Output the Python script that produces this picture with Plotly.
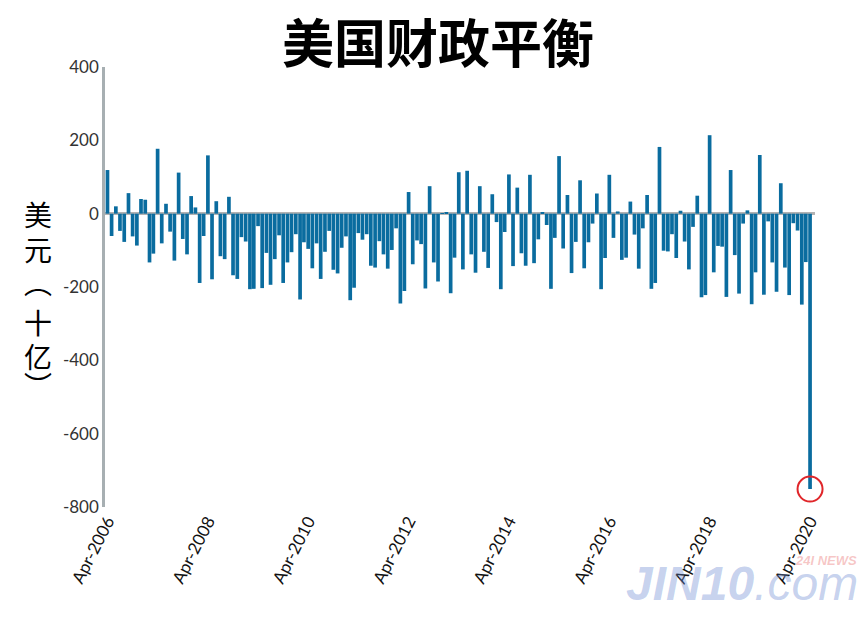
import pandas as pd
import plotly.graph_objects as go

# Monthly US federal budget balance, billions USD, Apr-2006 .. Apr-2020
start_month = "2006-04-01"
balance = [
    119, -61, 20, -47, -77, 56, -62, -87, 40,
    38, -133, -109, 177, -81, 27, -49, -128, 112, -69, -111, 48,
    17, -189, -61, 159, -179, 34, -116, -124, 46, -168, -178, -64,
    -76, -206, -205, -34, -203, -107, -194, -124, -59, -189, -133, -105,
    -56, -234, -78, -96, -149, -81, -178, -104, -47, -153, -163, -93,
    -62, -236, -202, -53, -71, -56, -142, -147, -75, -111, -150, -99,
    -40, -245, -211, 59, -138, -73, -83, -204, 75, -133, -185, 1,
    3, -217, -120, 113, -152, 117, -111, -161, 75, -104, -148, 53,
    -23, -206, -50, 107, -143, 71, -108, -142, 106, -135, -70, 2,
    -31, -205, -66, 157, -95, 51, -162, -77, 91, -149, -78, -27,
    55, -206, -121, 106, -66, 6, -126, -120, 33, -57, -150, -40,
    51, -205, -189, 182, -101, -103, -56, -121, 8, -76, -152, -36,
    49, -228, -222, 214, -160, -88, -90, -227, 119, -113, -218, -27,
    9, -247, -160, 160, -221, -21, -133, -213, 83, -147, -222, -26,
    -46, -248, -132, -751,
]
months = pd.date_range(start_month, periods=len(balance), freq="MS")

x_tick_vals = ["2006-04-01", "2008-04-01", "2010-04-01", "2012-04-01",
               "2014-04-01", "2016-04-01", "2018-04-01", "2020-04-01"]
x_tick_text = ["Apr-2006", "Apr-2008", "Apr-2010", "Apr-2012",
               "Apr-2014", "Apr-2016", "Apr-2018", "Apr-2020"]
y_tick_vals = [400, 200, 0, -200, -400, -600, -800]
y_tick_text = ["400", "200", "0", "-200", "-400", "-600", "-800"]

title_text = "美国财政平衡"
y_title_chars = ["美", "元", "︵", "十", "亿", "︶"]

BAR = "#0a6c9f"

fig = go.Figure()
fig.add_trace(go.Bar(x=months, y=balance, marker=dict(color=BAR, line=dict(width=0)),
                     hoverinfo="x+y"))
# red ring highlighting the latest month
fig.add_trace(go.Scatter(x=[months[-1]], y=[balance[-1]], mode="markers", cliponaxis=False,
                         marker=dict(symbol="circle-open", size=25,
                                     line=dict(color="#e0262a", width=2), color="#e0262a"),
                         hoverinfo="skip"))

L, R, T, B = 105, 49, 67, 111
W, H = 864, 618
pw, ph = W - L - R, H - T - B

def px_to_paper(px, py):
    return (px - L) / pw, (H - B - py) / ph

annotations = []
# title
tx, ty = px_to_paper(438, 1)
annotations.append(dict(text="<b>" + title_text + "</b>", x=tx, y=ty, xref="paper", yref="paper",
                        showarrow=False, xanchor="center", yanchor="top",
                        font=dict(family="Noto Sans CJK SC", size=52, color="#000000")))
# vertical y-axis title
char_y = [214, 249, 282, 322, 356, 385]
for ch, cy in zip(y_title_chars, char_y):
    cx, cyp = px_to_paper(38, cy)
    annotations.append(dict(text=ch, x=cx, y=cyp, xref="paper", yref="paper", showarrow=False,
                            xanchor="center", yanchor="middle",
                            font=dict(family="Noto Sans CJK SC", size=28, color="#000000")))
# watermark
wx, wy = px_to_paper(742, 583)
annotations.append(dict(text="<b><i>JIN10</i></b><i>.com</i>", x=wx, y=wy, xref="paper", yref="paper",
                        showarrow=False, xanchor="center", yanchor="middle",
                        font=dict(family="Liberation Sans", size=48, color="rgba(110,140,210,0.40)")))
nx, ny = px_to_paper(826, 560)
annotations.append(dict(text="<b><i>24I NEWS</i></b>", x=nx, y=ny, xref="paper", yref="paper",
                        showarrow=False, xanchor="center", yanchor="middle",
                        font=dict(family="Liberation Sans", size=13, color="rgba(230,90,90,0.35)")))

fig.update_layout(
    width=W, height=H,
    margin=dict(l=L, r=R, t=T, b=B),
    paper_bgcolor="white", plot_bgcolor="white",
    showlegend=False,
    bargap=0.04,
    annotations=annotations,
)
fig.update_xaxes(
    type="date", range=["2006-03-14", "2020-05-07"],
    tickvals=x_tick_vals, ticktext=x_tick_text, tickangle=-63,
    tickfont=dict(family="Lato", size=17, color="#111111"),
    showgrid=False, showline=False, zeroline=False, ticks="",
)
fig.update_yaxes(
    range=[-800, 400], tickvals=y_tick_vals, ticktext=y_tick_text,
    tickfont=dict(family="Lato", size=17, color="#333333"),
    showgrid=False, showline=True, linecolor="#a7afb2", linewidth=2.5,
    zeroline=True, zerolinecolor="#b3b3b3", zerolinewidth=3,
    ticks="", layer="above traces",
)

fig.write_html("out.html", config={"displayModeBar": False},
               post_script="document.body.style.margin='0px';")
